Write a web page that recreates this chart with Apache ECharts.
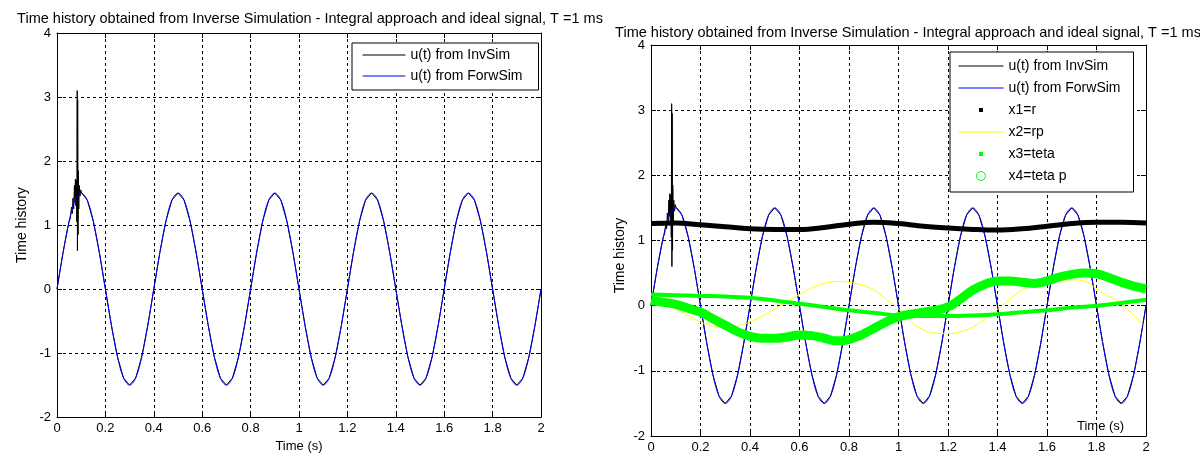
<!DOCTYPE html>
<html>
<head>
<meta charset="utf-8">
<script src="https://cdn.jsdelivr.net/npm/echarts@6/dist/echarts.min.js"></script>
<style>
  html, body { margin: 0; padding: 0; background: #fff; }
  #main { width: 1200px; height: 458px; }
</style>
</head>
<body>
<div id="main"></div>
<script>
// sampled every 0.025 s
const FORW_STEP = 0.025
const FORW_SIM = [
  0, 0.57, 1.06, 1.39, 1.5, 1.39, 1.06, 0.57, 0, -0.57, -1.06, -1.39, -1.5, -1.39, -1.06, -0.57,
  0, 0.57, 1.06, 1.39, 1.5, 1.39, 1.06, 0.57, 0, -0.57, -1.06, -1.39, -1.5, -1.39, -1.06, -0.57,
  0, 0.57, 1.06, 1.39, 1.5, 1.39, 1.06, 0.57, 0, -0.57, -1.06, -1.39, -1.5, -1.39, -1.06, -0.57,
  0, 0.57, 1.06, 1.39, 1.5, 1.39, 1.06, 0.57, 0, -0.57, -1.06, -1.39, -1.5, -1.39, -1.06, -0.57,
  0, 0.57, 1.06, 1.39, 1.5, 1.39, 1.06, 0.57, 0, -0.57, -1.06, -1.39, -1.5, -1.39, -1.06, -0.57,
  0
]
// InvSim follows ForwSim except for the start-up burst
const INV_BURST = [
  [0.055, 1.10], [0.060, 1.28], [0.063, 1.18], [0.066, 1.42], [0.069, 1.25], [0.072, 1.62],
  [0.074, 1.38], [0.076, 1.72], [0.078, 1.30], [0.080, 1.70], [0.082, 1.05], [0.0835, 3.10],
  [0.0845, 0.60], [0.0855, 2.95], [0.087, 0.85], [0.088, 1.85], [0.090, 1.25], [0.092, 1.62],
  [0.095, 1.45], [0.098, 1.55], [0.102, 1.50]
]
// states, x1 and x3 every 0.1 s, x2 and x4 every 0.05 s
const X1_R = [1.26, 1.27, 1.24, 1.21, 1.18, 1.17, 1.17, 1.2, 1.25, 1.28, 1.26,
  1.22, 1.19, 1.17, 1.16, 1.18, 1.22, 1.26, 1.28, 1.28, 1.27]
const X2_RP = [0.05, 0.02, -0.05, -0.15, -0.25, -0.31, -0.33, -0.31, -0.25, -0.16, -0.05,
  0.06, 0.17, 0.27, 0.34, 0.37, 0.36, 0.32, 0.24, 0.1, -0.05,
  -0.25, -0.37, -0.42, -0.43, -0.4, -0.33, -0.2, -0.06, 0.1, 0.24,
  0.31, 0.36, 0.38, 0.4, 0.38, 0.26, 0.14, 0.04, -0.15, -0.33]
const X3_TETA = [0.17, 0.16, 0.15, 0.14, 0.12, 0.08, 0.03, -0.02, -0.07, -0.11, -0.15,
  -0.16, -0.16, -0.15, -0.13, -0.1, -0.07, -0.03, 0.0, 0.04, 0.09]
const X4_TETAP = [0.08, 0.05, 0.02, -0.04, -0.1, -0.2, -0.3, -0.4, -0.47, -0.5, -0.5,
  -0.48, -0.45, -0.46, -0.5, -0.54, -0.52, -0.45, -0.35, -0.25, -0.17,
  -0.13, -0.1, -0.07, -0.02, 0.1, 0.24, 0.33, 0.38, 0.38, 0.36,
  0.34, 0.38, 0.44, 0.48, 0.5, 0.49, 0.43, 0.36, 0.3, 0.26]

const TITLE = 'Time history obtained from Inverse Simulation - Integral approach and ideal signal, T =1 ms'
const FONT = 'Liberation Sans, Arial, sans-serif'

const pairs = (vals, step) => vals.map((v, i) => [+(i * step).toFixed(4), v])
const forw = pairs(FORW_SIM, FORW_STEP)
const inv = forw.filter(p => p[0] < 0.055 || p[0] > 0.102).concat(INV_BURST).sort((a, b) => a[0] - b[0])

// marker icons: bbox padded to the full 45x12 item box so sizes stay as drawn
const DOT_ICON = 'path://M0,0M45,12M20.5,4L24.5,4L24.5,8L20.5,8Z'
const RING_ICON = 'path://M0,0M45,12M18,6A4.5,4.5,0,0,1,27,6A4.5,4.5,0,0,1,18,6Z'
const NO_SYMBOL = { color: 'rgba(0,0,0,0)', borderColor: 'rgba(0,0,0,0)', borderWidth: 0 }

var chart = echarts.init(document.getElementById('main'))

function xAxis(grid, pos) {
  return {
    gridIndex: grid, type: 'value', position: pos, min: 0, max: 2, interval: 0.2,
    axisLine: { onZero: false, lineStyle: { color: '#000', width: 1 } },
    axisTick: { inside: true, length: 5, lineStyle: { color: '#000' } },
    axisLabel: { show: pos === 'bottom', color: '#000', fontSize: 13, fontFamily: FONT, margin: 5 },
    splitLine: { show: pos === 'bottom', lineStyle: { color: '#000', type: [3, 3] } }
  }
}
function yAxis(grid, pos) {
  return {
    gridIndex: grid, type: 'value', position: pos, min: -2, max: 4, interval: 1,
    axisLine: { show: true, onZero: false, lineStyle: { color: '#000', width: 1 } },
    axisTick: { show: true, inside: true, length: 5, lineStyle: { color: '#000' } },
    axisLabel: { show: pos === 'left', color: '#000', fontSize: 13, fontFamily: FONT, margin: 6 },
    splitLine: { show: pos === 'left', lineStyle: { color: '#000', type: [3, 3] } }
  }
}
function line(name, data, xi, color, width, smooth) {
  return {
    type: 'line', name: name, data: data, xAxisIndex: xi, yAxisIndex: xi,
    showSymbol: false, symbol: 'none', smooth: smooth, silent: true,
    lineStyle: { color: color, width: width }, itemStyle: { color: color }
  }
}

const xs = [xAxis(0, 'bottom'), xAxis(0, 'top'), xAxis(1, 'bottom'), xAxis(1, 'top')]
xs[0].name = 'Time (s)'
xs[0].nameLocation = 'middle'
xs[0].nameGap = 22
xs[0].nameTextStyle = { color: '#000', fontSize: 13, fontFamily: FONT }
xs[2].name = 'Time (s)'
xs[2].nameLocation = 'end'
xs[2].nameGap = -69
xs[2].nameTextStyle = { color: '#000', fontSize: 13, fontFamily: FONT, align: 'left', verticalAlign: 'bottom', padding: [0, 0, 3, 0] }

const ys = [yAxis(0, 'left'), yAxis(0, 'right'), yAxis(1, 'left'), yAxis(1, 'right')]
ys[0].name = 'Time history'
ys[0].nameLocation = 'middle'
ys[0].nameGap = 28
ys[0].nameTextStyle = { color: '#000', fontSize: 14, fontFamily: FONT }
ys[2].name = 'Time history'
ys[2].nameLocation = 'middle'
ys[2].nameGap = 24
ys[2].nameTextStyle = { color: '#000', fontSize: 14, fontFamily: FONT, padding: [0, 30, 0, 0] }

const legendBase = {
  orient: 'vertical', selectedMode: false, backgroundColor: '#fff',
  borderColor: '#000', borderWidth: 1, itemHeight: 12,
  textStyle: { color: '#000', fontSize: 14, fontFamily: FONT }
}

let option = {
  animation: false,
  backgroundColor: '#fff',
  title: [
    { text: TITLE, left: 305, top: 6, textAlign: 'center', textStyle: { color: '#000', fontSize: 14.5, fontWeight: 'normal', fontFamily: FONT } },
    { text: TITLE, left: 903, top: 20, textAlign: 'center', textStyle: { color: '#000', fontSize: 14.5, fontWeight: 'normal', fontFamily: FONT } }
  ],
  grid: [
    { left: 57, right: 659, top: 33, bottom: 38 },
    { left: 651, right: 54, top: 45, bottom: 22 }
  ],
  xAxis: xs,
  yAxis: ys,
  legend: [
    Object.assign({}, legendBase, {
      left: 352, top: 43, itemWidth: 43, itemGap: 7, padding: [5, 16, 7, 10],
      data: [
        { name: 'u(t) from InvSim', itemStyle: NO_SYMBOL, lineStyle: { color: '#000', width: 1 } },
        { name: 'u(t) from ForwSim', itemStyle: NO_SYMBOL, lineStyle: { color: '#0000ff', width: 1 } }
      ]
    }),
    Object.assign({}, legendBase, {
      left: 950, top: 52, itemWidth: 45, itemGap: 8, padding: [7, 13, 9, 8],
      data: [
        { name: 'u(t) from InvSim', itemStyle: NO_SYMBOL, lineStyle: { color: '#000', width: 1 } },
        { name: 'u(t) from ForwSim', itemStyle: NO_SYMBOL, lineStyle: { color: '#0000ff', width: 1 } },
        { name: 'x1=r', icon: DOT_ICON, itemStyle: { color: '#000', borderWidth: 0 } },
        { name: 'x2=rp', itemStyle: NO_SYMBOL, lineStyle: { color: '#ffff00', width: 1 } },
        { name: 'x3=teta', icon: DOT_ICON, itemStyle: { color: '#00ff00', borderWidth: 0 } },
        { name: 'x4=teta p', icon: RING_ICON, itemStyle: { color: 'rgba(0,0,0,0)', borderColor: '#00ff00', borderWidth: 1 } }
      ]
    })
  ],
  series: [
    line('u(t) from InvSim', inv, 0, '#000', 1, false),
    line('u(t) from ForwSim', forw, 0, '#0000ff', 1, 0.35),
    line('u(t) from InvSim', inv, 2, '#000', 1, false),
    line('u(t) from ForwSim', forw, 2, '#0000ff', 1, 0.35),
    line('x1=r', pairs(X1_R, 0.1), 2, '#000', 5, 0.4),
    line('x2=rp', pairs(X2_RP, 0.05), 2, '#ffff00', 1, 0.4),
    line('x3=teta', pairs(X3_TETA, 0.1), 2, '#00ff00', 4, 0.4),
    line('x4=teta p', pairs(X4_TETAP, 0.05), 2, '#00ff00', 9, 0.4)
  ]
}
option && chart.setOption(option)
</script>
</body>
</html>
